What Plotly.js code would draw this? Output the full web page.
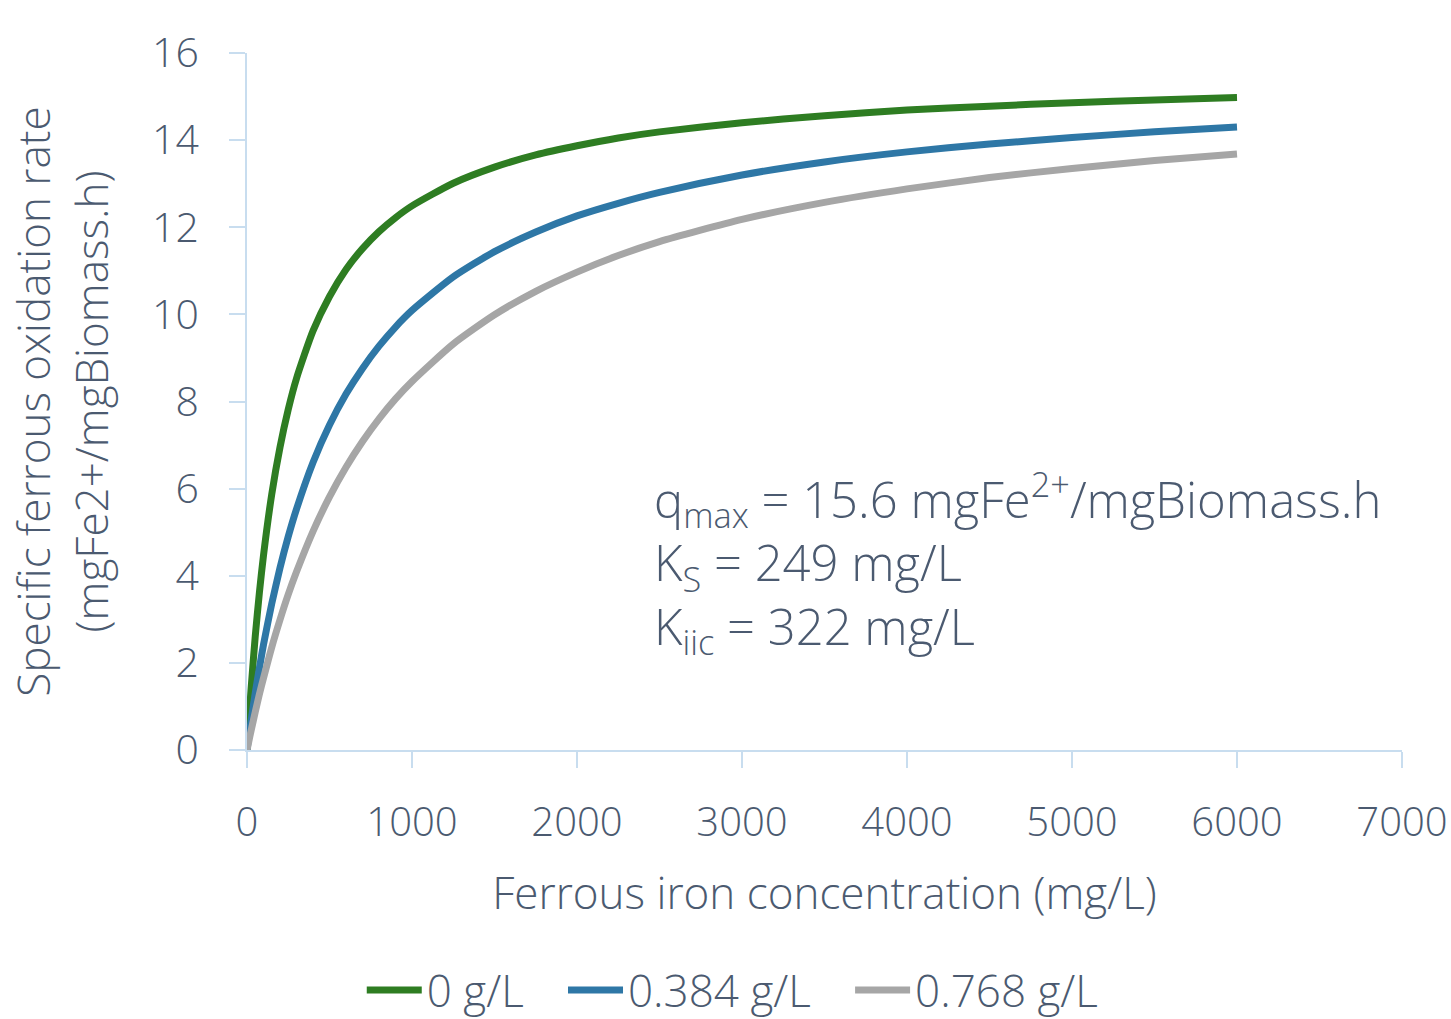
<!DOCTYPE html>
<html>
<head>
<meta charset="utf-8">
<script src="https://cdn.plot.ly/plotly-3.0.1.min.js"></script>
<style>html,body{margin:0;padding:0;background:#fff;}#chart{width:1451px;height:1019px;}</style>
</head>
<body>
<div id="chart"></div>
<script>
// Ferrous iron concentration (mg/L)
const concentration = [0, 10, 25, 50, 75, 100, 150, 200, 250, 300, 400, 500, 600, 700, 800, 900, 1000, 1250, 1500, 1750, 2000, 2250, 2500, 3000, 3500, 4000, 4500, 5000, 5500, 6000];
// Specific ferrous oxidation rate, 0 g/L
const rate0 = [0, 0.60, 1.42, 2.61, 3.61, 4.47, 5.87, 6.95, 7.82, 8.53, 9.62, 10.41, 11.03, 11.51, 11.90, 12.22, 12.49, 13.01, 13.38, 13.66, 13.87, 14.05, 14.19, 14.40, 14.56, 14.69, 14.78, 14.86, 14.92, 14.98];
// 0.384 g/L
const rate384 = [0, 0.28, 0.68, 1.31, 1.88, 2.42, 3.36, 4.18, 4.90, 5.53, 6.60, 7.46, 8.17, 8.76, 9.27, 9.71, 10.09, 10.86, 11.44, 11.89, 12.26, 12.55, 12.80, 13.20, 13.50, 13.73, 13.91, 14.06, 14.19, 14.30];
// 0.768 g/L
const rate768 = [0, 0.18, 0.45, 0.87, 1.28, 1.65, 2.36, 2.99, 3.57, 4.09, 5.02, 5.81, 6.49, 7.08, 7.60, 8.06, 8.46, 9.32, 9.99, 10.53, 10.97, 11.35, 11.67, 12.18, 12.57, 12.88, 13.14, 13.35, 13.53, 13.68];
const seriesNames = ["0 g/L", "0.384 g/L", "0.768 g/L"];
const xTicks = [0, 1000, 2000, 3000, 4000, 5000, 6000, 7000];
const yTicks = [0, 2, 4, 6, 8, 10, 12, 14, 16];
const paramLines = [
  "q<sub>max</sub> = 15.6 mgFe<sup>2+</sup>/mgBiomass.h",
  "K<sub>S</sub> = 249 mg/L",
  "K<sub>iic</sub> = 322 mg/L"
];

const FONT = "'Open Sans', 'Segoe UI', sans-serif";
const TXT = "#4b5a70";
const AX = "#c8ddef";
const W = 300;
const colors = ["#2e7d22", "#2e77a6", "#a6a6a6"];
const series = [rate0, rate384, rate768];
const GAP = "\u00a0\u00a0\u00a0";

const data = series.map((ys, i) => ({
  x: concentration, y: ys, type: "scatter", mode: "lines",
  name: seriesNames[i] + (i < series.length - 1 ? GAP : ""),
  line: {color: colors[i], width: 7, shape: "spline", smoothing: 0.6}
}));

const f = (size) => ({family: FONT, size: size, color: TXT, weight: W});

const layout = {
  width: 1451, height: 1019,
  paper_bgcolor: "#fff", plot_bgcolor: "#fff",
  margin: {l: 247, r: 49, t: 53, b: 269, autoexpand: false},
  font: f(40),
  showlegend: true,
  legend: {orientation: "h", xref: "container", yref: "container", x: 0.505, xanchor: "center", y: 0.028, yanchor: "middle",
    font: f(44), itemwidth: 55, tracegroupgap: 0},
  xaxis: {
    range: [0, 7000], tickvals: xTicks, ticktext: xTicks.map(String),
    showgrid: false, zeroline: false, showline: true, linecolor: AX, linewidth: 2,
    ticks: "outside", ticklen: 16, tickwidth: 2, tickcolor: AX,
    tickfont: f(40), ticklabelstandoff: 20,
    title: {text: "Ferrous iron concentration (mg/L)", font: f(44), standoff: 31},
    automargin: false
  },
  yaxis: {
    range: [0, 16], tickvals: yTicks, ticktext: yTicks.map(String),
    showgrid: false, zeroline: false, showline: true, linecolor: AX, linewidth: 2,
    ticks: "outside", ticklen: 16, tickwidth: 2, tickcolor: AX,
    tickfont: f(41), ticklabelstandoff: 22,
    title: {text: "Specific ferrous oxidation rate<br>(mgFe2+/mgBiomass.h)", font: f(44), standoff: 30},
    automargin: false
  },
  annotations: [
    {text: paramLines.join("<br>"), xref: "paper", yref: "paper", align: "left",
     x: (652-247)/1155, y: (750-562)/697, xanchor: "left", yanchor: "middle", showarrow: false,
     font: f(49)}
  ]
};

Plotly.newPlot("chart", data, layout, {displayModeBar: false, staticPlot: true});
</script>
</body>
</html>
